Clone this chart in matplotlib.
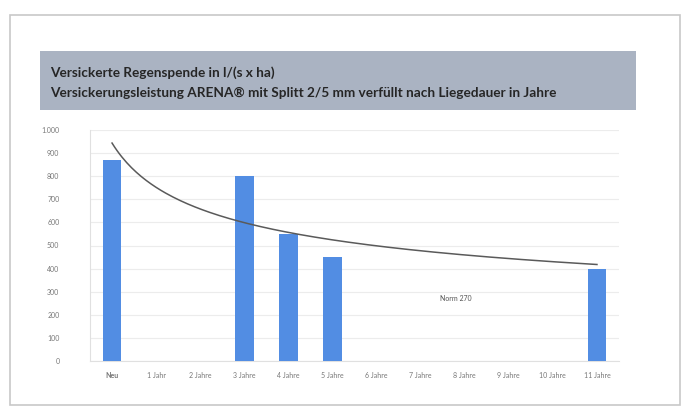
import numpy as np
import matplotlib
matplotlib.use("Agg")
import matplotlib.pyplot as plt
from matplotlib.patches import Rectangle

# Daten
kategorien = ["Neu", "1 Jahr", "2 Jahre", "3 Jahre", "4 Jahre", "5 Jahre",
              "6 Jahre", "7 Jahre", "8 Jahre", "9 Jahre", "10 Jahre", "11 Jahre"]
werte = [870, 0, 0, 800, 550, 450, 0, 0, 0, 0, 0, 400]
y_ticks = [0, 100, 200, 300, 400, 500, 600, 700, 800, 900, 1000]
y_labels = ["0", "100", "200", "300", "400", "500", "600", "700", "800", "900", "1.000"]
norm_wert = 270
titel1 = "Versickerte Regenspende in l/(s x ha)"
titel2 = "Versickerungsleistung ARENA\u00ae mit Splitt 2/5 mm verf\u00fcllt nach Liegedauer in Jahre"

plt.rcParams['font.family'] = ['Lato', 'DejaVu Sans']

fig = plt.figure(figsize=(6.83, 4.09), dpi=100)
fig.patch.set_facecolor("white")

# Rahmen und Titelbox
fig.patches.append(Rectangle((10/683, 1 - 405/409), 670/683, 390/409, transform=fig.transFigure,
                             fill=False, edgecolor="#c8c8c8", linewidth=1.2))
fig.patches.append(Rectangle((40/683, 1 - 110/409), 596/683, 59/409, transform=fig.transFigure,
                             facecolor="#aab3c2", edgecolor="none"))
fig.text(50/683, 1 - 73/409, titel1, fontsize=9.8, fontweight="bold", color="#262626", va="center")
fig.text(50/683, 1 - 93/409, titel2, fontsize=9.8, fontweight="bold", color="#262626", va="center")

ax = fig.add_axes([90/683, 1 - 361/409, 529/683, 231/409])
x = np.arange(len(kategorien))
ax.bar(x, werte, width=0.42, color="#528de3", zorder=3)

# Potenz-Trendlinie aus den vorhandenen Werten
xv = np.array([i + 1 for i, v in enumerate(werte) if v > 0], dtype=float)
yv = np.array([v for v in werte if v > 0], dtype=float)
k, lnc = np.polyfit(np.log(xv), np.log(yv), 1)
xs = np.linspace(1, len(kategorien), 200)
ax.plot(xs - 1, np.exp(lnc) * xs ** k, color="#5a5a5a", linewidth=1.1, zorder=4)

ax.text(7.8, norm_wert, "Norm 270", fontsize=5, color="#555555", ha="center", va="center")

ax.set_xlim(-0.5, len(kategorien) - 0.5)
ax.set_ylim(0, 1000)
ax.set_yticks(y_ticks)
ax.set_yticklabels(y_labels)
ax.set_xticks(x)
ax.set_xticklabels(kategorien)
for i, lab in enumerate(ax.get_xticklabels()):
    if i == 0:
        lab.set_fontweight("bold")
        lab.set_color("#333333")
ax.tick_params(axis="both", length=0, labelsize=5, colors="#777777")
ax.tick_params(axis="x", pad=8)
ax.tick_params(axis="y", pad=22)
ax.grid(axis="y", color="#ececec", linewidth=0.8, zorder=0)
for s in ["top", "right"]:
    ax.spines[s].set_visible(False)
ax.spines["left"].set_color("#e0e0e0")
ax.spines["bottom"].set_color("#e0e0e0")

fig.savefig("out.png", dpi=100)
